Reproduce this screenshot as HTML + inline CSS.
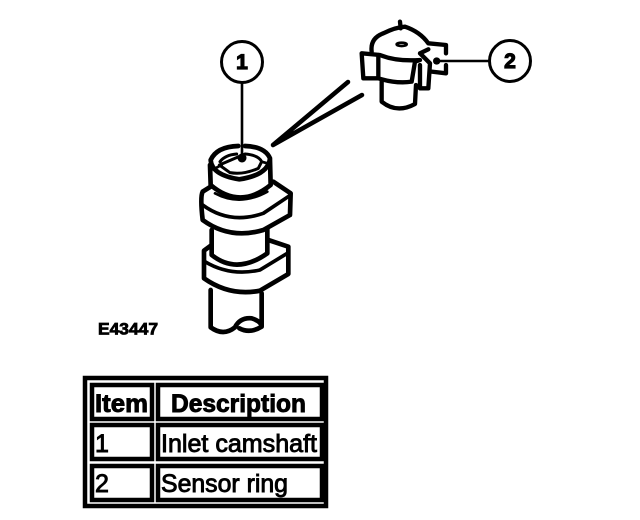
<!DOCTYPE html>
<html><head><meta charset="utf-8"><style>
html,body{margin:0;padding:0;background:#fff;width:640px;height:520px;overflow:hidden}
svg{display:block}
text{font-family:"Liberation Sans",sans-serif;fill:#000}
</style></head><body>
<svg width="640" height="520" viewBox="0 0 640 520" xmlns="http://www.w3.org/2000/svg">
<rect width="640" height="520" fill="#fff"/>
<!-- camshaft -->
<g transform="translate(180,130) scale(.3333)" fill="none" stroke="#000" stroke-width="14" stroke-linejoin="round" stroke-linecap="round">
<path d="M92,480 L92,592 Q130,620 165,592 Q180,562 215,565 Q245,575 245,590 Q210,612 178,595 M245,590 L245,490"/>
<path fill="#fff" d="M95,345 L72,362 L72,445 Q150,500 240,482 L325,432 L325,350 L265,330"/>
<path d="M75,395 Q150,440 240,420 L325,368" stroke-width="11"/>
<path fill="#fff" d="M95,300 L95,375 Q170,435 262,370 L262,295"/>
<path fill="#fff" d="M100,165 L68,185 Q60,200 68,270 Q150,330 250,300 L330,255 L332,190 L280,155"/>
<path d="M68,225 Q150,285 250,250 L332,195" stroke-width="11"/>
<path fill="#fff" d="M90,105 L92,165 Q180,240 272,165 L270,90"/>
<path d="M105,190 Q180,230 262,185" stroke-width="8"/>
<path d="M175,48 Q110,50 92,90 Q95,135 178,148 Q265,135 270,85 Q255,50 195,48"/>
<path d="M120,95 Q135,75 170,72 M195,72 Q235,75 245,95 L235,115 Q190,135 150,128 L118,105 Z" stroke-width="9"/>
<path d="M100,118 L125,105 M262,100 L245,95" stroke-width="8"/>
</g>
<!-- sensor -->
<g transform="translate(340,10) scale(.3333)" fill="none" stroke="#000" stroke-width="13" stroke-linejoin="round" stroke-linecap="round">
<path d="M180,35 L182,55 M95,125 Q90,85 130,70 Q165,52 195,50 Q240,65 265,100 L318,105 L318,130 M318,165 L318,190 L275,185"/>
<ellipse cx="185" cy="103" rx="15" ry="5" stroke-width="8"/>
<path d="M125,215 L125,275 Q170,312 225,282 L228,225"/>
<path fill="#fff" d="M65,130 L120,135 Q170,155 240,150 L225,155 L215,215 Q170,222 115,205 L70,205 Z"/>
<path d="M115,135 L115,205 M240,165 L240,235 L265,235 L270,160 L240,130 L265,118"/>
<circle cx="290" cy="153" r="11" fill="#000" stroke="none"/>
</g>
<!-- leaders -->
<g stroke="#000" fill="none" stroke-linecap="round">
<path d="M348,82 L273,145 L362,95" stroke-width="4.5" stroke-linejoin="round"/>
<path d="M242,82 L242,158 M437,61 L489,61" stroke-width="2.6"/>
<circle cx="242" cy="158" r="4.5" fill="#000" stroke="none"/>
<circle cx="242" cy="62" r="20.5" stroke-width="3" fill="#fff"/>
<circle cx="510" cy="61" r="20.5" stroke-width="3" fill="#fff"/>
</g>
<text x="242" y="69" font-size="21" font-weight="bold" text-anchor="middle" stroke="#000" stroke-width="1.2">1</text>
<text x="510" y="68" font-size="21" font-weight="bold" text-anchor="middle" stroke="#000" stroke-width="1.2">2</text>
<text x="98" y="334.5" font-size="16.5" font-weight="bold" stroke="#000" stroke-width=".8" textLength="60" lengthAdjust="spacingAndGlyphs">E43447</text>
<!-- table -->
<g fill="none" stroke="#000" stroke-width="4.5">
<rect x="85" y="378" width="241" height="128"/>
<rect x="92" y="385" width="60" height="34"/>
<rect x="158" y="385" width="164" height="34"/>
<rect x="92" y="425" width="60" height="34"/>
<rect x="158" y="425" width="164" height="34"/>
<rect x="92" y="466" width="60" height="34"/>
<rect x="158" y="466" width="164" height="34"/>
</g>
<g font-size="25" stroke="#000" stroke-width=".9">
<text x="95" y="412" font-weight="bold" textLength="53" lengthAdjust="spacingAndGlyphs">Item</text>
<text x="171" y="412" font-weight="bold" textLength="135" lengthAdjust="spacingAndGlyphs">Description</text>
<text x="95" y="452">1</text>
<text x="161" y="452" textLength="156" lengthAdjust="spacingAndGlyphs">Inlet camshaft</text>
<text x="95" y="492">2</text>
<text x="161" y="492" textLength="127" lengthAdjust="spacingAndGlyphs">Sensor ring</text>
</g>
</svg>
</body></html>
